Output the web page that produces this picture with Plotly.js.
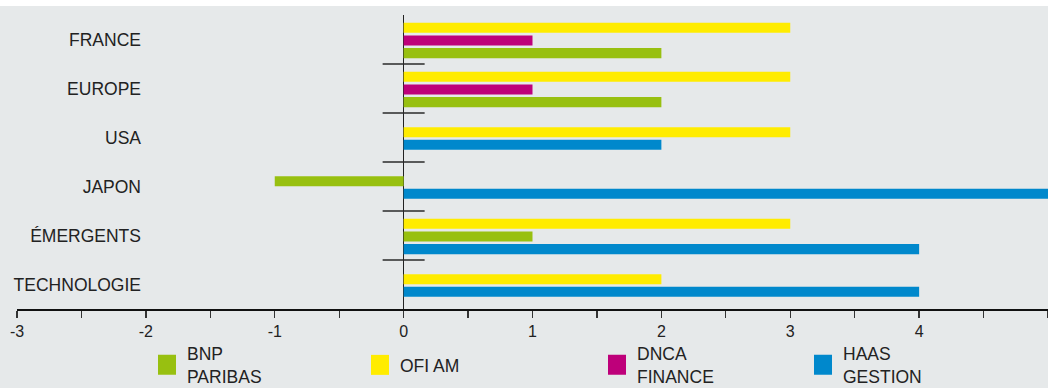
<!DOCTYPE html>
<html><head><meta charset="utf-8">
<script src="https://cdn.plot.ly/plotly-3.0.1.min.js"></script>
<style>html,body{margin:0;padding:0;background:#ffffff;} #chart{width:1048px;height:382px;margin-top:6px;}</style>
</head><body><div id="chart"></div>
<script>
// ---- data ----
const categories = ['FRANCE', 'EUROPE', 'USA', 'JAPON', 'ÉMERGENTS', 'TECHNOLOGIE'];
const ofiAm       = [3, 3, 3, null, 3, 2];
const dncaFinance = [1, 1, null, null, null, null];
const bnpParibas  = [2, 2, null, -1, 1, null];
const haasGestion = [null, null, 2, 5, 4, 4];
const seriesNames = ['OFI AM', 'DNCA<br>FINANCE', 'BNP<br>PARIBAS', 'HAAS<br>GESTION'];
const xTicks = [-3, -2, -1, 0, 1, 2, 3, 4, 5];

// ---- styling ----
const colors = ['#FFEC00', '#BE007A', '#98C010', '#0088CC'];
const legendIds = ['legend2', 'legend3', 'legend', 'legend4'];
const legendX = {legend: 147, legend2: 360, legend3: 597, legend4: 803};
const series = [ofiAm, dncaFinance, bnpParibas, haasGestion];
const pitch = 0.258, barW = 0.205;

// compact the bars that are present in each category around its centre
const offsets = series.map(() => categories.map(() => 0));
categories.forEach((c, i) => {
  const present = series.map((s, k) => s[i] !== null ? k : -1).filter(k => k >= 0);
  const n = present.length;
  present.forEach((k, j) => {
    offsets[k][i] = -n * pitch / 2 + j * pitch + (pitch - barW) / 2 + 0.02;
  });
});

const font = 'Liberation Sans, Arial, sans-serif';
const traces = series.map((s, k) => ({
  type: 'bar', orientation: 'h',
  x: s, y: categories,
  name: seriesNames[k],
  width: categories.map(() => barW),
  offset: offsets[k],
  marker: {color: colors[k], line: {width: 0}},
  legend: legendIds[k],
  hoverinfo: 'skip'
}));

const plotL = 17, plotW = 1031, plotT = 9, plotH = 294;
const px2x = p => (p - plotL) / plotW;
const py2y = p => (plotT + plotH - p) / plotH;

const minorVals = xTicks.slice(1).map((v, i) => (v + xTicks[i]) / 2);
const boundaries = categories.slice(1).map((c, i) => i + 0.5);
const unitPx = plotW / (xTicks[xTicks.length - 1] - xTicks[0]);
const divHalf = 21 / unitPx;

const legendBase = (id) => ({
  x: px2x(legendX[id]), xanchor: 'left', y: py2y(359), yanchor: 'middle',
  orientation: 'h', bgcolor: 'rgba(0,0,0,0)', borderwidth: 0,
  font: {family: font, size: 17.5, color: '#222'}
});

const layout = {
  width: 1048, height: 382,
  paper_bgcolor: '#E6E9EA', plot_bgcolor: '#E6E9EA',
  margin: {l: plotL, r: 0, t: plotT, b: 382 - plotT - plotH, autoexpand: false},
  barmode: 'overlay',
  showlegend: true,
  xaxis: {
    range: [xTicks[0], xTicks[xTicks.length - 1]],
    tickmode: 'array', tickvals: xTicks, ticktext: xTicks.map(String),
    ticks: 'outside', ticklen: 7, tickwidth: 1.3, tickcolor: '#333',
    minor: {tickmode: 'array', tickvals: minorVals, ticks: 'outside', ticklen: 7, tickwidth: 1.3, tickcolor: '#333', showgrid: false},
    showline: true, linecolor: '#111', linewidth: 1.5,
    showgrid: false,
    zeroline: true, zerolinecolor: '#222', zerolinewidth: 1.5,
    tickfont: {family: font, size: 16, color: '#222'},
    fixedrange: true
  },
  yaxis: {
    type: 'category', categoryorder: 'array', categoryarray: categories,
    range: [categories.length - 0.5, -0.5],
    anchor: 'free', position: px2x(141),
    showline: false, ticks: '', showgrid: false, zeroline: false,
    tickfont: {family: font, size: 17.5, color: '#222'},
    fixedrange: true
  },
  shapes: boundaries.map(b => ({
    type: 'line', xref: 'x', yref: 'y',
    x0: -divHalf, x1: divHalf, y0: b, y1: b,
    line: {color: '#2a2a2a', width: 1.3}
  })),
  legend: legendBase('legend'),
  legend2: legendBase('legend2'),
  legend3: legendBase('legend3'),
  legend4: legendBase('legend4')
};

Plotly.newPlot('chart', traces, layout, {displayModeBar: false, staticPlot: true}).then(() => {
  // larger legend swatches, as in the original artwork
  document.querySelectorAll('#chart g.legendpoints path').forEach(p => p.setAttribute('d', 'M9,10H-9V-10H9Z'));
});
</script>
</body></html>
